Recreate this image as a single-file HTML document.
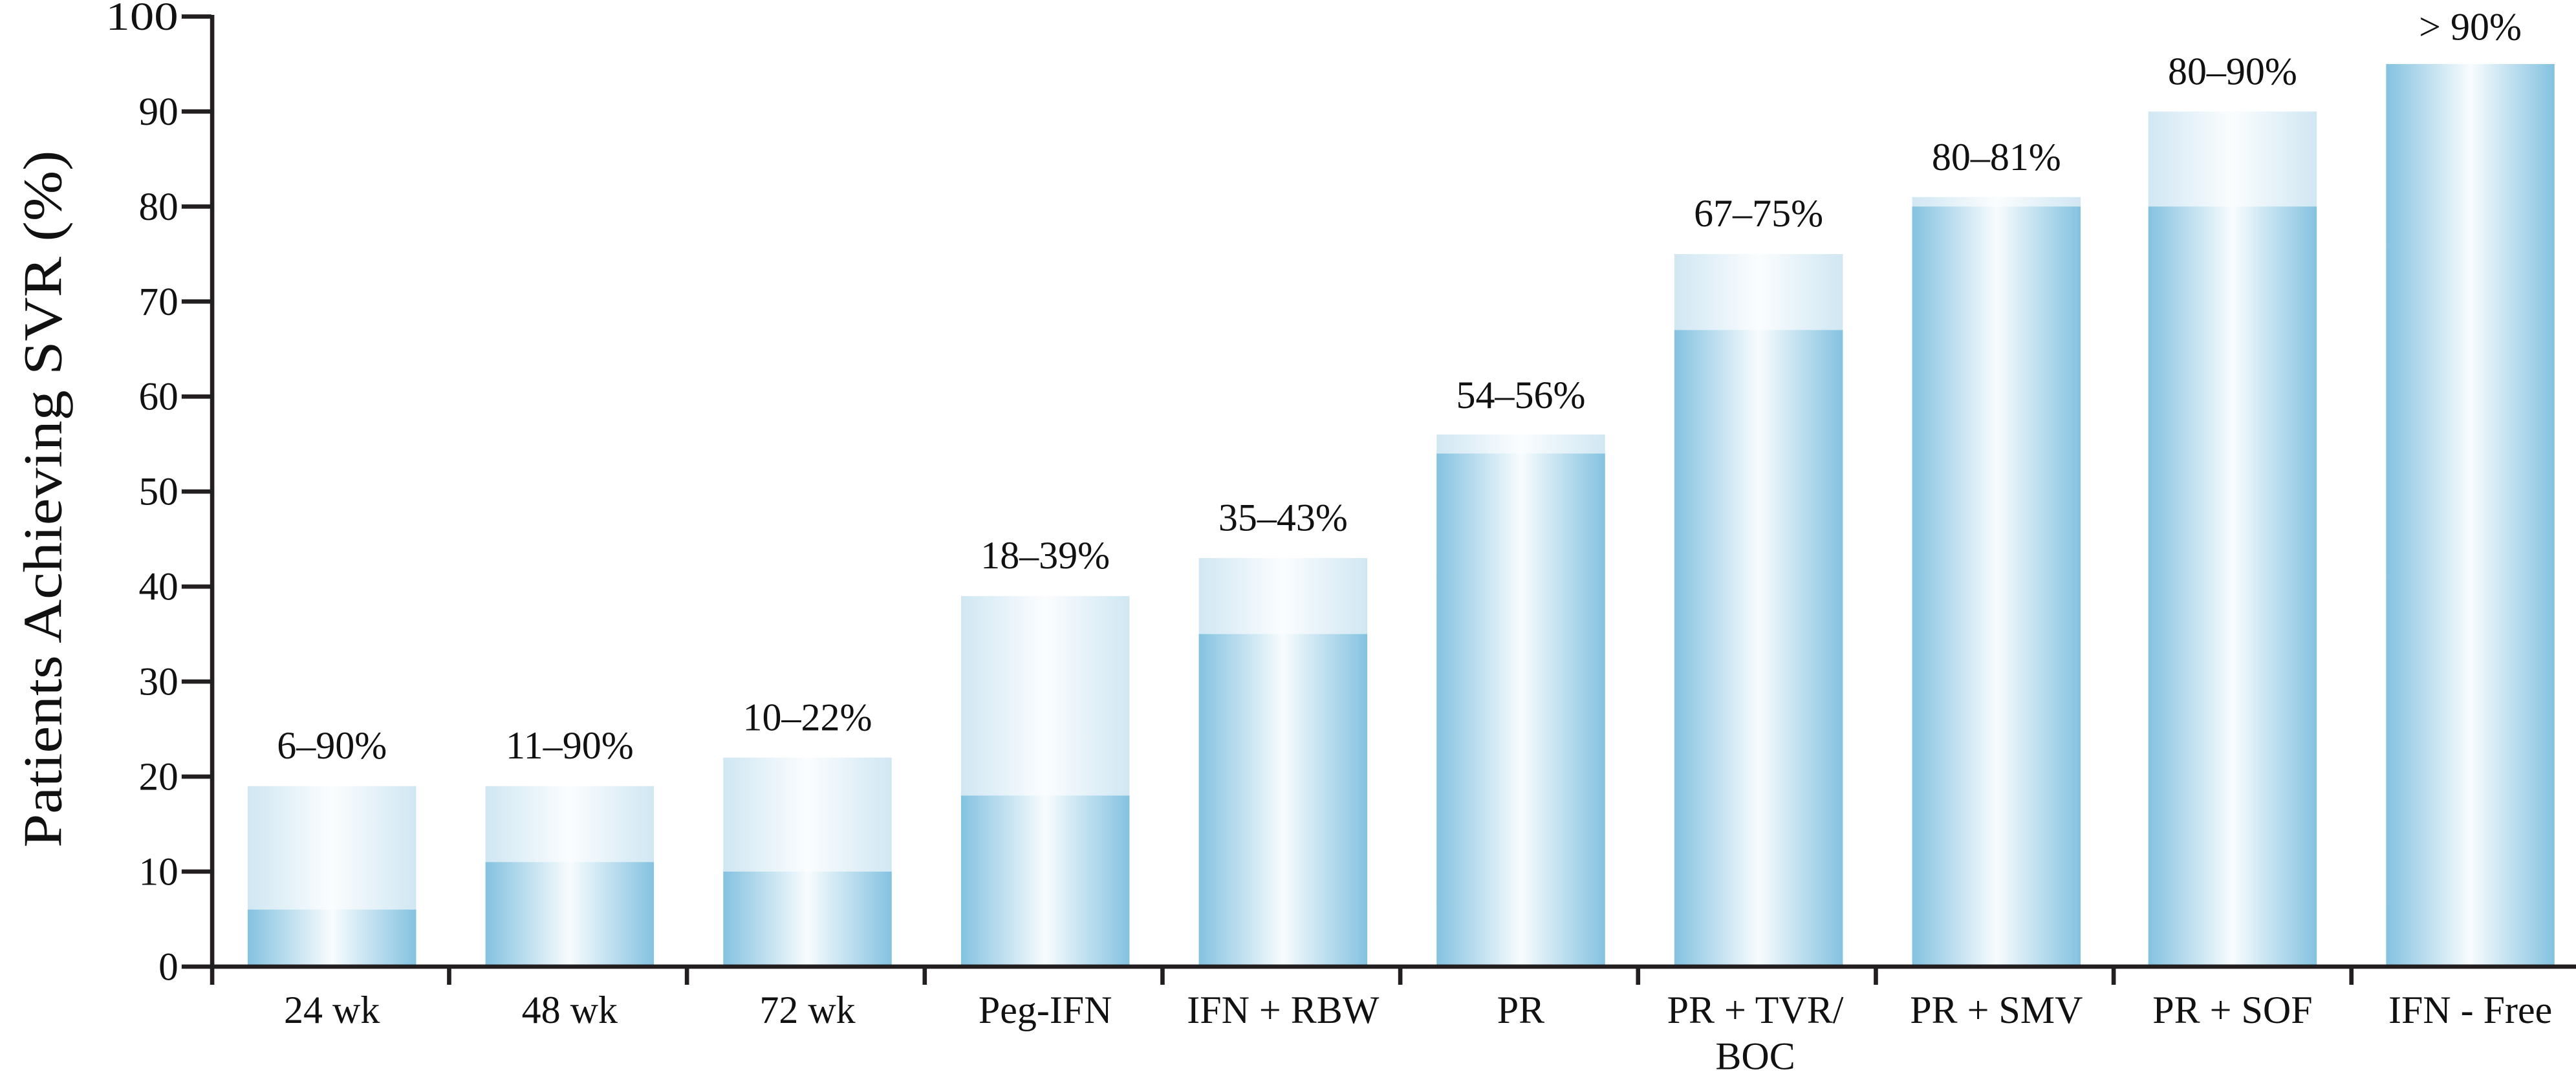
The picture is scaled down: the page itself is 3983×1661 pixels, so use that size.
<!DOCTYPE html>
<html><head><meta charset="utf-8"><style>html,body{margin:0;padding:0;background:#fff}svg{display:block}</style></head>
<body>
<svg width="3983" height="1661" viewBox="0 0 1560 650" preserveAspectRatio="none" xmlns="http://www.w3.org/2000/svg" font-family="'Liberation Serif', serif">
<defs>
<linearGradient id="d" x1="0" x2="1" y1="0" y2="0">
<stop offset="0" stop-color="#84c2e0"/><stop offset="0.5" stop-color="#f8fcfe"/><stop offset="1" stop-color="#84c2e0"/>
</linearGradient>
<linearGradient id="l" x1="0" x2="1" y1="0" y2="0">
<stop offset="0" stop-color="#d0e7f3"/><stop offset="0.5" stop-color="#fbfdfe"/><stop offset="1" stop-color="#d0e7f3"/>
</linearGradient>
</defs>
<g>
<rect x="150" y="475.75" width="102" height="109.25" fill="url(#l)"/><rect x="150" y="550.5" width="102" height="34.5" fill="url(#d)"/>
<rect x="294" y="475.75" width="102" height="109.25" fill="url(#l)"/><rect x="294" y="521.75" width="102" height="63.25" fill="url(#d)"/>
<rect x="438" y="458.5" width="102" height="126.5" fill="url(#l)"/><rect x="438" y="527.5" width="102" height="57.5" fill="url(#d)"/>
<rect x="582" y="360.75" width="102" height="224.25" fill="url(#l)"/><rect x="582" y="481.5" width="102" height="103.5" fill="url(#d)"/>
<rect x="726" y="337.75" width="102" height="247.25" fill="url(#l)"/><rect x="726" y="383.75" width="102" height="201.25" fill="url(#d)"/>
<rect x="870" y="263" width="102" height="322" fill="url(#l)"/><rect x="870" y="274.5" width="102" height="310.5" fill="url(#d)"/>
<rect x="1014" y="153.75" width="102" height="431.25" fill="url(#l)"/><rect x="1014" y="199.75" width="102" height="385.25" fill="url(#d)"/>
<rect x="1158" y="119.25" width="102" height="465.75" fill="url(#l)"/><rect x="1158" y="125" width="102" height="460" fill="url(#d)"/>
<rect x="1301" y="67.5" width="102" height="517.5" fill="url(#l)"/><rect x="1301" y="125" width="102" height="460" fill="url(#d)"/>
<rect x="1445" y="38.75" width="102" height="546.25" fill="url(#d)"/>
</g>
<g stroke="#231f20" stroke-width="2.6" fill="none">
<line x1="128.5" y1="9" x2="128.5" y2="596"/>
<line x1="127" y1="585" x2="1565" y2="585"/>
<path d="M110 10H128M110 67.5H128M110 125H128M110 182.5H128M110 240H128M110 297.5H128M110 355H128M110 412.5H128M110 470H128M110 527.5H128M110 585H128"/>
<path d="M272 585V596M416 585V596M560 585V596M704 585V596M848 585V596M992 585V596M1136 585V596M1280 585V596M1424 585V596M1564 585V596"/>
</g>
<g font-size="24" fill="#111" text-anchor="end">
<text x="108" y="18" textLength="44" lengthAdjust="spacingAndGlyphs">100</text><text x="108" y="75.5">90</text><text x="108" y="133">80</text><text x="108" y="190.5">70</text><text x="108" y="248">60</text><text x="108" y="305.5">50</text><text x="108" y="363">40</text><text x="108" y="420.5">30</text><text x="108" y="478">20</text><text x="108" y="535.5">10</text><text x="108" y="593">0</text>
</g>
<text transform="translate(37,302) rotate(-90)" font-size="33" text-anchor="middle" textLength="422" lengthAdjust="spacingAndGlyphs" fill="#111">Patients Achieving SVR (%)</text>
<g font-size="23.5" fill="#111" text-anchor="middle">
<text x="201" y="459">6–90%</text>
<text x="345" y="459">11–90%</text>
<text x="489" y="442">10–22%</text>
<text x="633" y="344">18–39%</text>
<text x="777" y="321">35–43%</text>
<text x="921" y="247">54–56%</text>
<text x="1065" y="137">67–75%</text>
<text x="1209" y="103">80–81%</text>
<text x="1352" y="51">80–90%</text>
<text x="1496" y="24">&gt; 90%</text>
</g>
<g font-size="23.5" fill="#111" text-anchor="middle">
<text x="201" y="619">24 wk</text>
<text x="345" y="619">48 wk</text>
<text x="489" y="619">72 wk</text>
<text x="633" y="619">Peg-IFN</text>
<text x="777" y="619">IFN + RBW</text>
<text x="921" y="619">PR</text>
<text x="1063" y="619">PR + TVR/</text>
<text x="1063" y="647">BOC</text>
<text x="1209" y="619">PR + SMV</text>
<text x="1352" y="619">PR + SOF</text>
<text x="1496" y="619">IFN - Free</text>
</g>
</svg>
</body></html>
